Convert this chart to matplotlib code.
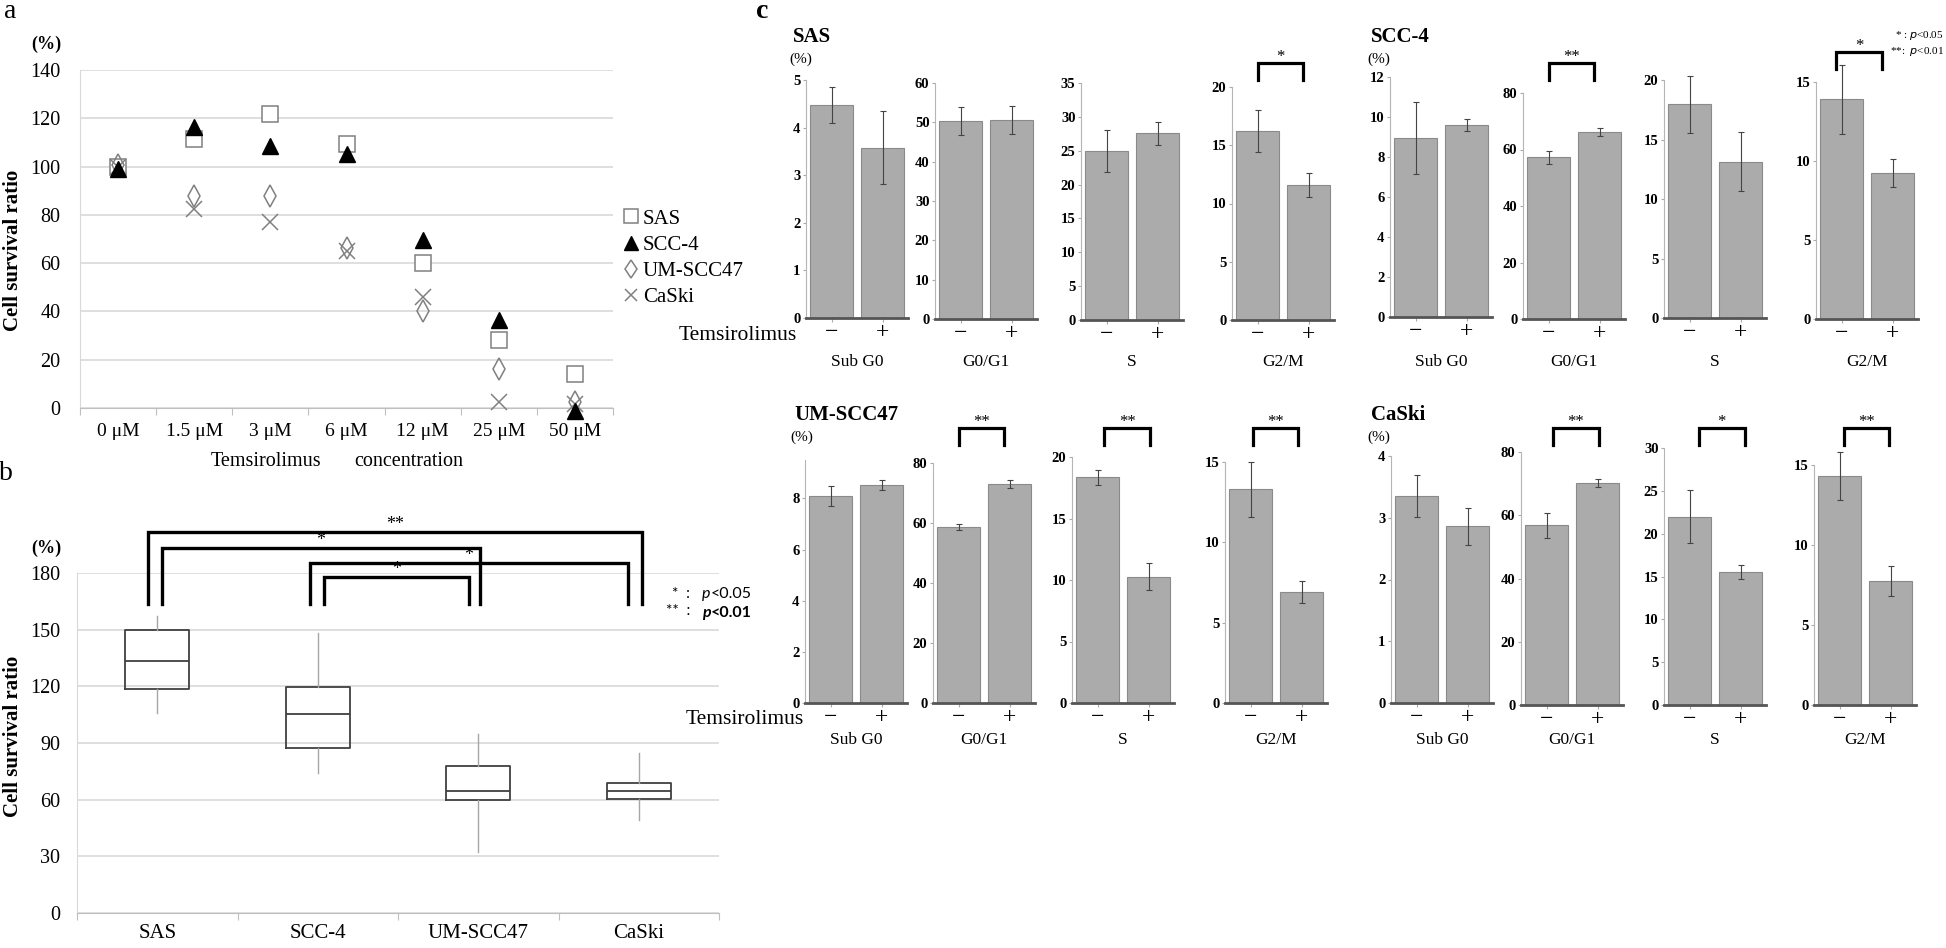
import numpy as np
import matplotlib
matplotlib.use('Agg')
import matplotlib.pyplot as plt
from matplotlib import transforms

plt.rcParams['font.family'] = ['Liberation Serif', 'DejaVu Serif']

# ---------------- panel a: survival vs dose (%)
conc_labels = ['0 μM', '1.5 μM', '3 μM', '6 μM', '12 μM', '25 μM', '50 μM']
sas_a = [100, 111.6, 121.6, 109.5, 60.0, 28.0, 13.9]
scc4_a = [98.8, 116.2, 108.7, 105.4, 69.4, 36.3, -1.2]
um_a = [100.5, 87.7, 87.7, 66.2, 40.0, 16.2, 2.5]
caski_a = [100, 82.6, 77.0, 65.0, 45.8, 2.5, 1.5]

# ---------------- panel b: box plot
box_labels = ['SAS', 'SCC-4', 'UM-SCC47', 'CaSki']
whis_lo = [105.7, 74.1, 32.1, 49.4]
q1 = [118.4, 87.4, 59.6, 60.4]
med = [133.6, 105.4, 64.4, 64.4]
q3 = [149.8, 119.6, 77.8, 69.0]
whis_hi = [157.0, 148.2, 94.9, 84.7]
sig_pairs = [(0, 3), (0, 2), (1, 3), (1, 2)]
sig_marks = ['**', '*', '*', '*']
sig_heights = [201.6, 193.1, 185.2, 177.8]
sig_leg_bottom = 163.5

# ---------------- panel c: cell cycle (%)
phases = ['Sub G0', 'G0/G1', 'S', 'G2/M']
treat_labels = ['\u2212', '+']
cell_lines = ['SAS', 'SCC-4', 'UM-SCC47', 'CaSki']
ctrl_mean = [[4.48, 50.3, 24.9, 16.2],
             [8.95, 57.2, 17.95, 13.9],
             [8.1, 58.7, 18.35, 13.3],
             [3.36, 56.8, 22.0, 14.3]]
tem_mean = [[3.58, 50.6, 27.6, 11.6],
            [9.6, 66.1, 13.15, 9.25],
            [8.52, 72.9, 10.25, 6.9],
            [2.86, 70.2, 15.55, 7.75]]
ctrl_err = [[0.38, 3.6, 3.1, 1.8],
            [1.8, 2.2, 2.4, 2.2],
            [0.38, 0.9, 0.6, 1.7],
            [0.34, 4.0, 3.1, 1.5]]
tem_err = [[0.77, 3.5, 1.7, 1.0],
           [0.3, 1.4, 2.5, 0.9],
           [0.19, 1.3, 1.1, 0.7],
           [0.3, 1.4, 0.8, 0.95]]
y_max = [[5, 60, 35, 20], [12, 80, 20, 15], [9.5, 80, 20, 15], [4, 80, 30, 15]]
y_step = [[1, 10, 5, 5], [2, 20, 5, 5], [2, 20, 5, 5], [1, 20, 5, 5]]
c_sig = [['', '', '', '*'], ['', '**', '', '*'], ['', '**', '**', '**'], ['', '**', '*', '**']]

# ---------------- layout (pixels, from top-left)
W, H = 1946, 948
c_left = [[806, 935, 1081, 1232], [1390, 1523, 1664, 1816],
          [805, 933, 1072, 1225], [1391, 1521, 1664, 1814]]
c_zero = [[318, 319, 320, 320], [317, 319, 318, 319],
          [703, 703, 703, 703], [703, 705, 705, 705]]
c_top = [[80, 83, 83, 87], [77, 93, 80, 82],
         [460, 463, 457, 462], [456, 452, 448, 465]]
c_brk = [[63, 63, 63, 63], [63, 63, 63, 52],
         [428, 428, 428, 428], [428, 428, 428, 428]]
c_brk_x0 = [[0, 0, 0, 0], [0, 0, 0, -0.1], [0, 0, 0.13, 0.04], [0, 0.12, 0.18, 0.08]]
c_title = [(793, 37), (1371, 37), (794, 415), (1371, 415)]
c_phase_y = [362, 362, 740, 740]

fig = plt.figure(figsize=(W / 100, H / 100), dpi=100)
fig.patch.set_facecolor('white')


def box(l, t, r, b):
    return [l / W, 1 - b / H, (r - l) / W, (b - t) / H]


def ftxt(x, y, s, **kw):
    kw.setdefault('ha', 'center')
    kw.setdefault('va', 'center')
    return fig.text(x / W, 1 - y / H, s, **kw)


def excel_axes(ax, n):
    for s in ['top', 'right']:
        ax.spines[s].set_visible(False)
    ax.spines['left'].set_color('#d9d9d9')
    ax.spines['bottom'].set_color('#bfbfbf')
    ax.yaxis.grid(True, color='#d9d9d9', lw=1.2)
    ax.set_axisbelow(True)
    ax.set_xlim(-0.5, n - 0.5)
    ax.set_xticks(np.arange(-0.5, n, 1))
    ax.set_xticklabels([])
    ax.tick_params(axis='x', which='major', length=5, color='#bfbfbf')


# ================= panel a
ax = fig.add_axes(box(80, 70, 613, 408))
x = np.arange(len(conc_labels))
ax.plot(x, sas_a, ls='none', marker='s', ms=12, mfc='white', mec='#808080', mew=1.1,
        label='SAS', clip_on=False, zorder=3)
ax.plot(x, scc4_a, ls='none', marker='^', ms=12, color='black',
        label='SCC-4', clip_on=False, zorder=4)
ax.plot(x, um_a, ls='none', marker='d', ms=11, mfc='none', mec='#808080', mew=1.1,
        label='UM-SCC47', clip_on=False, zorder=3)
ax.plot(x, caski_a, ls='none', marker='x', ms=11, color='#808080', mew=1.1,
        label='CaSki', clip_on=False, zorder=3)
excel_axes(ax, len(conc_labels))
ax.set_ylim(0, 140)
ax.set_yticks(range(0, 141, 20))
ax.set_xticks(x, minor=True)
ax.set_xticklabels(conc_labels, minor=True)
ax.tick_params(axis='x', which='minor', length=0, pad=11, labelsize=14)
ax.tick_params(axis='y', length=0, pad=14, labelsize=14.5)
ax.legend(loc='upper left', bbox_to_anchor=(623 / W, 1 - 209 / H), bbox_transform=fig.transFigure,
          frameon=False, fontsize=15, handlelength=0.8, handletextpad=0.15, labelspacing=0.32,
          borderpad=0, borderaxespad=0, numpoints=1, markerscale=0.85)

ftxt(10, 12, 'a', fontsize=20)
ftxt(46, 44, '(%)', fontsize=13, fontweight='bold')
ftxt(13, 250, 'Cell survival ratio', fontsize=15, fontweight='bold', rotation=90)
ftxt(266, 461, 'Temsirolimus', fontsize=14.5)
ftxt(409, 461, 'concentration', fontsize=14.5)

# ================= panel b
ax = fig.add_axes(box(77, 573, 719, 913))
stats = [dict(med=m, q1=a, q3=b, whislo=lo, whishi=hi, fliers=[])
         for m, a, b, lo, hi in zip(med, q1, q3, whis_lo, whis_hi)]
ax.bxp(stats, positions=range(len(box_labels)), widths=0.4, showfliers=False, showcaps=False,
       boxprops=dict(color='#404040', lw=1.3), medianprops=dict(color='#404040', lw=1.3),
       whiskerprops=dict(color='#a6a6a6', lw=1.0))
excel_axes(ax, len(box_labels))
ax.set_ylim(0, 180)
ax.set_yticks(range(0, 181, 30))
ax.set_xticks(range(len(box_labels)), minor=True)
ax.set_xticklabels(box_labels, minor=True)
ax.tick_params(axis='x', which='minor', length=0, pad=8, labelsize=15)
ax.tick_params(axis='y', length=0, pad=12, labelsize=14.5)
offs = [(-0.055, 0.02), (0.03, 0.01), (-0.05, -0.07), (0.04, -0.06)]
for (i, j), mark, h, (di, dj) in zip(sig_pairs, sig_marks, sig_heights, offs):
    xa, xb = i + di, j + dj
    ax.plot([xa, xa, xb, xb], [sig_leg_bottom, h, h, sig_leg_bottom], color='black', lw=2.4,
            clip_on=False, solid_joinstyle='miter')
    ax.text((xa + xb) / 2, h + 1.5, mark, ha='center', va='baseline', fontsize=13, clip_on=False)

ftxt(6, 474, 'b', fontsize=20)
ftxt(46, 548, '(%)', fontsize=13, fontweight='bold')
ftxt(13, 736, 'Cell survival ratio', fontsize=15, fontweight='bold', rotation=90)
ftxt(690, 594, '*  :', ha='right', fontsize=11, family='Lato')
ftxt(690, 611, '**  :', ha='right', fontsize=11, family='Lato')
ftxt(702, 594, 'p', ha='left', fontsize=11.5, family='Lato', style='italic')
ftxt(711, 594, '<0.05', ha='left', fontsize=11.5, family='Lato')
ftxt(702, 613, 'p', ha='left', fontsize=11.5, family='Lato', style='italic', fontweight='bold')
ftxt(711, 613, '<0.01', ha='left', fontsize=11.5, family='Lato', fontweight='bold')

# ================= panel c
ftxt(762, 12, 'c', fontsize=20, fontweight='bold')
for n, line in enumerate(cell_lines):
    tx, ty = c_title[n]
    ftxt(tx, ty, line, ha='left', fontsize=15, fontweight='bold')
    ftxt(tx - 4, ty + 22, '(%)', ha='left', fontsize=11)
    for k, phase in enumerate(phases):
        left = c_left[n][k]
        ax = fig.add_axes(box(left, c_top[n][k], left + 102, c_zero[n][k]))
        xs = [0, 1]
        ax.bar(xs, [ctrl_mean[n][k], tem_mean[n][k]], width=0.84, color='#ababab',
               edgecolor='#8a8a8a', lw=0.8, zorder=2)
        eb = ax.errorbar(xs, [ctrl_mean[n][k], tem_mean[n][k]],
                         yerr=[ctrl_err[n][k], tem_err[n][k]], fmt='none', ecolor='#444444',
                         elinewidth=0.8, capsize=2.2, capthick=0.8, zorder=3)
        for a in eb.get_children():
            a.set_clip_on(False)
        ax.set_xlim(-0.5, 1.5)
        ax.set_ylim(0, y_max[n][k])
        ax.set_yticks(np.arange(0, y_max[n][k] + 1e-9, y_step[n][k]))
        ax.set_xticks(xs)
        ax.set_xticklabels(treat_labels)
        for s in ['top', 'right']:
            ax.spines[s].set_visible(False)
        ax.spines['left'].set_color('#b5b5b5')
        ax.spines['left'].set_linewidth(0.8)
        ax.spines['bottom'].set_color('#555555')
        ax.spines['bottom'].set_linewidth(2)
        ax.tick_params(axis='x', length=3, color='#aaaaaa', pad=0, labelsize=17)
        ax.tick_params(axis='y', length=2, color='#aaaaaa', pad=2, labelsize=10.5)
        for lab in ax.get_yticklabels():
            lab.set_fontweight('bold')
        ftxt(left + 51, c_phase_y[n], phase, fontsize=12.5)
        if c_sig[n][k]:
            tr = transforms.blended_transform_factory(ax.transData, fig.transFigure)
            yt = 1 - c_brk[n][k] / H
            yl = 1 - (c_brk[n][k] + 17) / H
            xa = c_brk_x0[n][k]
            xb = xa + 0.9
            ax.plot([xa, xa, xb, xb], [yl, yt, yt, yl], transform=tr, color='black', lw=2.3,
                    clip_on=False, solid_joinstyle='miter')
            ax.text((xa + xb) / 2, yt + 2 / H, c_sig[n][k], transform=tr, ha='center',
                    va='baseline', fontsize=12, clip_on=False)
            ax.set_xlim(-0.5, 1.5)
            ax.set_ylim(0, y_max[n][k])

ftxt(797, 336, 'Temsirolimus', ha='right', fontsize=15.5)
ftxt(804, 719, 'Temsirolimus', ha='right', fontsize=15.5)
ftxt(1944, 35, '* : $\\mathit{p}$<0.05', ha='right', fontsize=8)
ftxt(1944, 51, '**:  $\\mathit{p}$<0.01', ha='right', fontsize=8)

fig.savefig('out.png', dpi=100, facecolor='white')
